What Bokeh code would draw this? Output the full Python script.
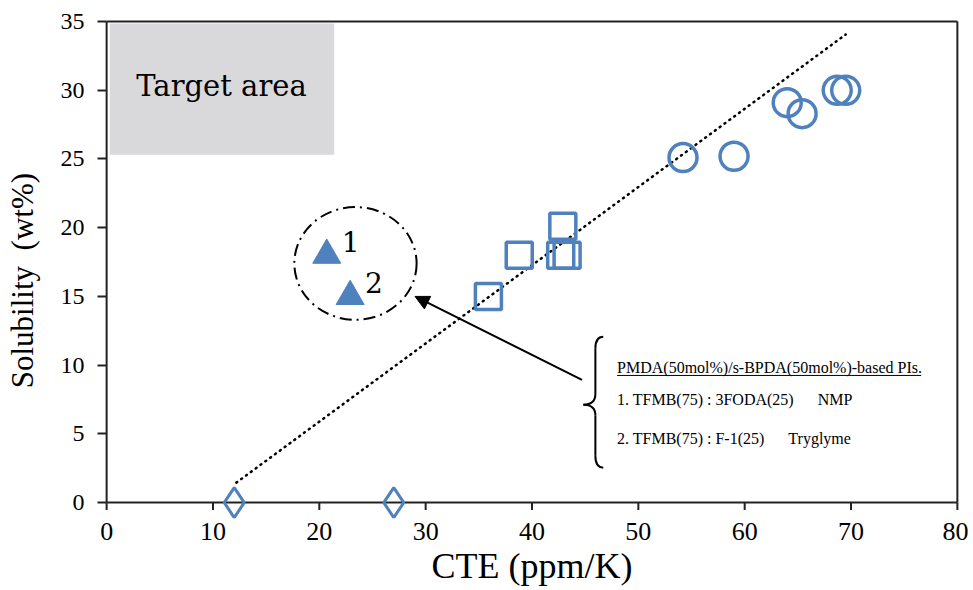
from bokeh.plotting import figure
from bokeh.embed import file_html
from bokeh.resources import INLINE
from bokeh.models import Arrow, NormalHead, BoxAnnotation, FixedTicker
from bokeh.core.properties import value

# ---- data ----
diamond_x = [12.0, 27.0]
diamond_y = [0.0, 0.0]
square_x = [35.9, 38.8, 42.9, 42.7, 43.3]
square_y = [15.0, 18.0, 20.1, 18.0, 18.0]
circle_x = [54.2, 59.0, 64.0, 65.4, 68.7, 69.5]
circle_y = [25.1, 25.2, 29.1, 28.3, 30.0, 30.0]
tri_x = [20.7, 22.9]
tri_y = [18.0, 15.0]
tri_labels = ["1", "2"]
trend_x = [12.2, 69.5]
trend_y = [1.45, 34.06]
x_ticks = [0, 10, 20, 30, 40, 50, 60, 70, 80]
y_ticks = [0, 5, 10, 15, 20, 25, 30, 35]
NB = "\u00a0"
note_lines = ["PMDA(50mol%)/s-BPDA(50mol%)-based PIs.",
              "1. TFMB(75) : 3FODA(25)" + NB * 6 + "NMP",
              "2. TFMB(75) : F-1(25)" + NB * 6 + "Tryglyme"]

BLUE = "#4F81BD"
SERIF = "Liberation Serif"
AX = "#222222"
X_MIN, X_MAX = 0, 80
Y_MIN, Y_MAX = 0, 35

p = figure(width=968, height=588, x_range=(-0.2, 80.2), y_range=(-1.16, 35.15),
           output_backend="svg", toolbar_location=None,
           min_border_left=104, min_border_right=9, min_border_top=19, min_border_bottom=67)
p.grid.visible = False
p.outline_line_color = None
p.background_fill_color = "white"

for ax in (p.xaxis[0], p.yaxis[0]):
    ax.axis_line_color = None
    ax.minor_tick_line_color = None
    ax.major_label_text_font = SERIF
    ax.major_label_text_color = "black"
    ax.axis_label_text_font = SERIF
    ax.axis_label_text_font_style = "normal"
    ax.axis_label_text_color = "black"

xa = p.xaxis[0]
xa.ticker = FixedTicker(ticks=x_ticks)
xa.major_tick_line_color = None
xa.major_tick_out = 0
xa.major_tick_in = 0
xa.major_label_text_font_size = "26px"
xa.major_label_standoff = 4
xa.axis_label = "CTE (ppm/K)"
xa.axis_label_text_font_size = "36px"
xa.axis_label_standoff = 3

ya = p.yaxis[0]
ya.ticker = FixedTicker(ticks=y_ticks)
ya.major_tick_line_width = 2
ya.major_tick_line_color = AX
ya.major_tick_in = 2
ya.major_tick_out = 7
ya.major_label_text_font_size = "24px"
ya.major_label_standoff = 13
ya.axis_label = "Solubility" + NB + NB + "(wt%)" + NB * 3
ya.axis_label_text_font_size = "31px"
ya.axis_label_standoff = 18

# frame lines (left, top, right, bottom axis)
p.segment(x0=[X_MIN, X_MIN, X_MAX, X_MIN], y0=[Y_MIN, Y_MAX, Y_MIN, Y_MIN],
          x1=[X_MIN, X_MAX, X_MAX, X_MAX], y1=[Y_MAX, Y_MAX, Y_MAX, Y_MIN],
          line_color=AX, line_width=2)
# x ticks (outward, below the axis)
p.segment(x0=x_ticks, y0=[Y_MIN] * len(x_ticks), x1=x_ticks, y1=[Y_MIN - 0.55] * len(x_ticks),
          line_color=AX, line_width=2)

# target area
p.add_layout(BoxAnnotation(left=0.3, right=21.4, bottom=25.3, top=34.85,
                           fill_color="#D9D9DB", fill_alpha=1.0, line_color=None, level="underlay"))
p.text(x=[10.8], y=[30.3], text=["Target area"], text_font=value("DejaVu Serif"),
       text_font_size="29px", text_align="center", text_baseline="middle", text_color="black")

# trend line
p.line(trend_x, trend_y, line_color="black", line_width=2.5, line_dash="1 5", line_cap="round")

# markers
p.scatter(diamond_x, diamond_y, marker="diamond", size=30, fill_color=None,
          line_color=BLUE, line_width=3)
p.scatter(square_x, square_y, marker="square", size=26, fill_color=None,
          line_color=BLUE, line_width=3.5)
p.scatter(circle_x, circle_y, marker="circle", size=28, fill_color=None,
          line_color=BLUE, line_width=3.5)
p.scatter(tri_x, tri_y, marker="triangle", size=28, fill_color=BLUE,
          line_color=BLUE, line_width=1)
p.text(x=[tx + 1.4 for tx in tri_x], y=[ty + 1.0 for ty in tri_y], text=tri_labels,
       text_font=value("DejaVu Serif"), text_font_size="28px", text_color="black",
       text_align="left", text_baseline="middle")

# dash-dot ellipse around the triangles
p.ellipse(x=[23.4], y=[17.4], width=11.5, height=8.2, fill_color=None,
          line_color="black", line_width=2, line_dash="12 5 2 5")

# arrow
p.add_layout(Arrow(end=NormalHead(size=14, fill_color="black", line_color="black"),
                   x_start=44.7, y_start=8.93, x_end=29.0, y_end=15.0,
                   line_color="black", line_width=2))

# brace
bx_out, bx_in, bx_tip = 46.7, 45.96, 44.83
p.quadratic(x0=[bx_out, bx_in, bx_tip, bx_in], y0=[12.06, 7.9, 7.12, 3.4],
            x1=[bx_in, bx_tip, bx_in, bx_out], y1=[11.2, 7.12, 6.35, 2.54],
            cx=[bx_in, bx_in, bx_in, bx_in], cy=[12.06, 7.12, 7.12, 2.54],
            line_color="black", line_width=2)
p.segment(x0=[bx_in, bx_in], y0=[11.2, 6.35], x1=[bx_in, bx_in], y1=[7.9, 3.4],
          line_color="black", line_width=2)

# note text
p.text(x=[48.0, 48.0, 48.0], y=[9.8, 7.5, 4.65], text=note_lines,
       text_font=value(SERIF), text_font_size="16px", text_color="black",
       text_align="left", text_baseline="middle")
p.segment(x0=[48.0], y0=[9.25], x1=[76.6], y1=[9.25], line_color="black", line_width=1)

open("out.html", "w").write(file_html(p, INLINE))
